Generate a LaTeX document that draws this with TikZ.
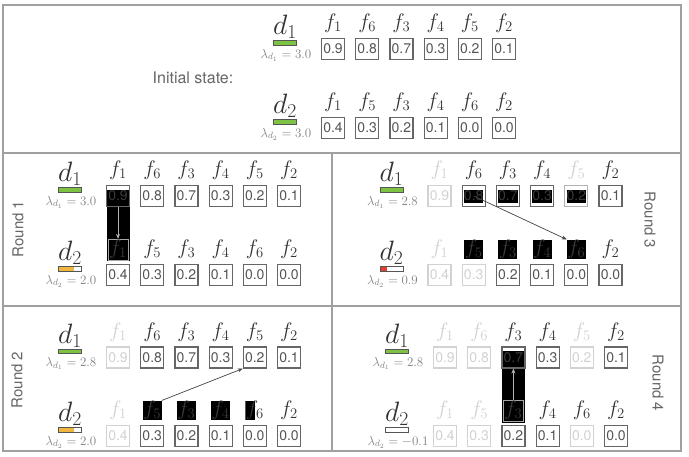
\documentclass[tikz,border=0pt]{standalone}
\usepackage{fix-cm}
\usepackage{fontspec}
\setsansfont{TeX Gyre Heros}
\usetikzlibrary{arrows.meta}
\definecolor{framec}{HTML}{A0A0A0}
\definecolor{boxc}{HTML}{666666}
\definecolor{valc}{HTML}{555555}
\definecolor{fadec}{HTML}{D2D2D2}
\definecolor{darkt}{HTML}{3A3A3A}
\definecolor{labc}{HTML}{333333}
\definecolor{lamc}{HTML}{808080}
\definecolor{barc}{HTML}{555555}
\definecolor{titc}{HTML}{666666}
\definecolor{arrc}{HTML}{444444}
\definecolor{greenc}{HTML}{7DC242}
\definecolor{orangec}{HTML}{F0B640}
\definecolor{redc}{HTML}{E2402F}
\tikzset{
 frame/.style={draw=framec, line width=1.4pt},
 bn/.style={draw=boxc, line width=1.2pt, minimum width=23pt, minimum height=21pt, inner sep=0pt, font=\sffamily\fontsize{14}{14}\selectfont, text=valc},
 bf/.style={bn, draw=fadec, text=fadec},
 bk/.style={bn, text=darkt},
 bb/.style={bn, text=darkt, path picture={\fill[black] ([xshift=1.8pt,yshift=-5pt]path picture bounding box.north west) rectangle ([xshift=-1.8pt,yshift=3pt]path picture bounding box.south east);}},
 bbf/.style={bb, draw=gray!60},
 ln/.style={font=\fontsize{21}{21}\selectfont, text=labc, inner sep=0.5pt},
 lf/.style={ln, text=fadec},
 lb/.style={ln, fill=black, text=darkt},
 lk/.style={ln, draw=gray!70, line width=0.6pt, text=darkt, inner sep=1pt},
 lhalf/.style={ln, path picture={\fill[black] (path picture bounding box.north west) rectangle ([xshift=10pt]path picture bounding box.south west);}},
 dlab/.style={font=\fontsize{28}{28}\selectfont, text=labc, inner sep=0pt},
 lam/.style={font=\fontsize{13}{13}\selectfont, text=lamc, inner sep=0pt},
 barbox/.style={draw=barc, line width=0.8pt, minimum width=23pt, minimum height=4.5pt, inner sep=0pt},
 rnd/.style={font=\sffamily\fontsize{15}{15}\selectfont, text=titc},
 mv/.style={draw=arrc, line width=0.7pt, -{Stealth[length=5pt,width=4pt]}},
 mvl/.style={mv, draw=gray!60, fill=gray!60},
}
% #1 name, #2 ox, #3 oy, #4 d index, #5 lambda, #6 bar colour, #7 bar fraction, #8 list
\newcommand\prow[8]{%
  \node[dlab] (#1-d) at (#2-48, #3-22) {$d_{#4}$};
  \node[lam] (#1-l) at (#2-47, #3+6) {$\lambda_{d_{#4}} = #5$};
  \fill[#6] (#2-59.5, #3-8.25) rectangle ++({23*#7}, 4.5);
  \node[barbox] (#1-bar) at (#2-48, #3-6) {};
  \foreach \lab/\val/\ls/\bs [count=\i] in {#8} {
    \node[\bs] (#1-b\i) at ({#2+34.2*(\i-1)}, #3) {\val};
    \node[\ls] (#1-f\i) at ({#2+34.2*(\i-1)}, #3-25.5) {$f_{\lab}$};
  }%
}
\begin{document}
\begin{tikzpicture}[x=1pt,y=-1pt]
\useasboundingbox (0,0) rectangle (689,457);
\fill[white] (0,0) rectangle (689,457);
% frame
\draw[frame] (3,5) rectangle (681,451);
\draw[frame] (3,153) -- (681,153);
\draw[frame] (3,306) -- (681,306);
\draw[frame] (332,153) -- (332,451);
% titles
\node[rnd, font=\sffamily\fontsize{16}{16}\selectfont] (init) at (193,78) {Initial state:};
\node[rnd, rotate=90] (t1) at (18,229) {Round 1};
\node[rnd, rotate=90] (t2) at (17,380) {Round 2};
\node[rnd, rotate=-90] (t3) at (650,220) {Round 3};
\node[rnd, rotate=-90] (t4) at (658,383) {Round 4};
% moving highlights (behind)
\fill[black] (106.5,190) rectangle (129.5,261);
\fill[black] (501.9,351.5) rectangle (524.9,423);
% initial state
\prow{I1}{333}{49}{1}{3.0}{greenc}{1}{1/0.9/ln/bn, 6/0.8/ln/bn, 3/0.7/ln/bn, 4/0.3/ln/bn, 5/0.2/ln/bn, 2/0.1/ln/bn}
\prow{I2}{333}{128}{2}{3.0}{greenc}{1}{1/0.4/ln/bn, 5/0.3/ln/bn, 3/0.2/ln/bn, 4/0.1/ln/bn, 6/0.0/ln/bn, 2/0.0/ln/bn}
% round 1
\prow{R1a}{118}{196}{1}{3.0}{greenc}{1}{1/0.9/ln/bk, 6/0.8/ln/bn, 3/0.7/ln/bn, 4/0.3/ln/bn, 5/0.2/ln/bn, 2/0.1/ln/bn}
\prow{R1b}{118}{275}{2}{2.0}{orangec}{0.667}{1/0.4/lk/bn, 5/0.3/ln/bn, 3/0.2/ln/bn, 4/0.1/ln/bn, 6/0.0/ln/bn, 2/0.0/ln/bn}
% round 2
\prow{R2a}{118}{357.5}{1}{2.8}{greenc}{1}{1/0.9/lf/bf, 6/0.8/ln/bn, 3/0.7/ln/bn, 4/0.3/ln/bn, 5/0.2/ln/bn, 2/0.1/ln/bn}
\prow{R2b}{118}{436}{2}{2.0}{orangec}{0.667}{1/0.4/lf/bf, 5/0.3/lb/bn, 3/0.2/lb/bn, 4/0.1/lb/bn, 6/0.0/lhalf/bn, 2/0.0/ln/bn}
% round 3
\prow{R3a}{439.5}{196}{1}{2.8}{greenc}{1}{1/0.9/lf/bf, 6/0.8/ln/bb, 3/0.7/ln/bb, 4/0.3/ln/bb, 5/0.2/lf/bbf, 2/0.1/ln/bn}
\prow{R3b}{439.5}{275}{2}{0.9}{redc}{0.3}{1/0.4/lf/bf, 5/0.3/lb/bf, 3/0.2/lb/bn, 4/0.1/lb/bn, 6/0.0/lb/bn, 2/0.0/ln/bn}
% round 4
\prow{R4a}{445}{357.5}{1}{2.8}{greenc}{1}{1/0.9/lf/bf, 6/0.8/lf/bf, 3/0.7/ln/bk, 4/0.3/ln/bn, 5/0.2/lf/bf, 2/0.1/ln/bn}
\prow{R4b}{445}{436}{2}{-0.1}{redc}{0}{1/0.4/lf/bf, 5/0.3/lf/bf, 3/0.2/lk/bn, 4/0.1/ln/bn, 6/0.0/ln/bf, 2/0.0/ln/bn}
% moves
\draw[mvl] (R1a-b1.south) -- (R1b-f1.north);
\draw[mv] (R2b-f2.north east) -- (R2a-b5.south west);
\draw[mv] (R3a-b2.center) -- (R3b-f5.north west);
\draw[mvl] (R4b-f3.north) -- (R4a-b3.south);
\end{tikzpicture}
\end{document}
